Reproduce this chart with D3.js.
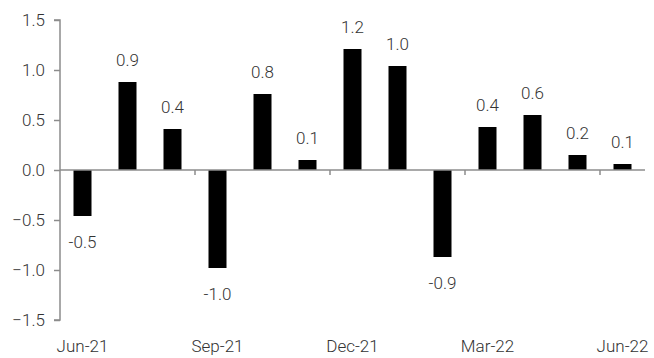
<!DOCTYPE html>
<html><head><meta charset="utf-8">
<script src="https://cdn.jsdelivr.net/npm/d3@7"></script>
<style>
html,body{margin:0;padding:0;background:#fff;}
text{font-family:Roboto,"Open Sans",sans-serif;font-weight:300;fill:#333;}
</style></head>
<body><svg id="c" width="654" height="358"></svg>
<script>
const categories = ["Jun-21","Jul-21","Aug-21","Sep-21","Oct-21","Nov-21","Dec-21","Jan-22","Feb-22","Mar-22","Apr-22","May-22","Jun-22"];
const values = [-0.46, 0.88, 0.41, -0.98, 0.76, 0.10, 1.21, 1.04, -0.87, 0.43, 0.55, 0.15, 0.06];
const valueLabels = ["-0.5","0.9","0.4","-1.0","0.8","0.1","1.2","1.0","-0.9","0.4","0.6","0.2","0.1"];
const yTicks = [-1.5, -1.0, -0.5, 0.0, 0.5, 1.0, 1.5];
const xLabelCats = ["Jun-21","Sep-21","Dec-21","Mar-22","Jun-22"];

const svg = d3.select("#c");
const x = d3.scaleBand().domain(categories).range([60, 645]).paddingInner(0.6).paddingOuter(0.3);
const y = d3.scaleLinear().domain([-1.5, 1.5]).range([320, 20]);
const axisColor = "#8c8c8c";
const fs = 17;

// y axis
const ya = svg.append("g").attr("transform","translate(60,0)")
  .call(d3.axisLeft(y).tickValues(yTicks).tickSize(6).tickPadding(9).tickFormat(d3.format(".1f")));
ya.select(".domain").attr("stroke",axisColor).attr("stroke-width",1.5).attr("d","M-6,"+y(1.5)+"H0V"+y(-1.5)+"H-6");
ya.selectAll(".tick line").attr("stroke",axisColor).attr("stroke-width",1.5);
ya.selectAll(".tick text").style("font-size",fs+"px").style("font-family","Roboto").style("font-weight","300").attr("fill","#333");

// bars
svg.append("g").selectAll("rect").data(values).join("rect")
  .attr("x",(d,i)=>x(categories[i]))
  .attr("width",x.bandwidth())
  .attr("y",d=>y(Math.max(0,d)))
  .attr("height",d=>Math.abs(y(d)-y(0)))
  .attr("fill","#000");

// zero line
const step = x.step();
svg.append("line").attr("x1",60).attr("x2",645).attr("y1",y(0)).attr("y2",y(0))
  .attr("stroke",axisColor).attr("stroke-width",1.5);
// category boundary ticks every 3 categories
const tickIdx = [3,6,9,12];
svg.append("g").selectAll("line").data(tickIdx).join("line")
  .attr("x1",i=>x(categories[i]) - (step - x.bandwidth())/2)
  .attr("x2",i=>x(categories[i]) - (step - x.bandwidth())/2)
  .attr("y1",y(0)).attr("y2",y(0)+5)
  .attr("stroke",axisColor).attr("stroke-width",1.5);

// value labels
svg.append("g").selectAll("text").data(values).join("text")
  .attr("x",(d,i)=>x(categories[i])+x.bandwidth()/2)
  .attr("y",d=> d>=0 ? y(d)-16 : y(d)+32)
  .attr("text-anchor","middle")
  .style("font-size",fs+"px")
  .text((d,i)=>valueLabels[i]);

// x labels
svg.append("g").selectAll("text").data(xLabelCats).join("text")
  .attr("x",d=>x(d)+x.bandwidth()/2)
  .attr("y",352)
  .attr("text-anchor","middle")
  .style("font-size",fs+"px")
  .text(d=>d);
</script></body></html>
